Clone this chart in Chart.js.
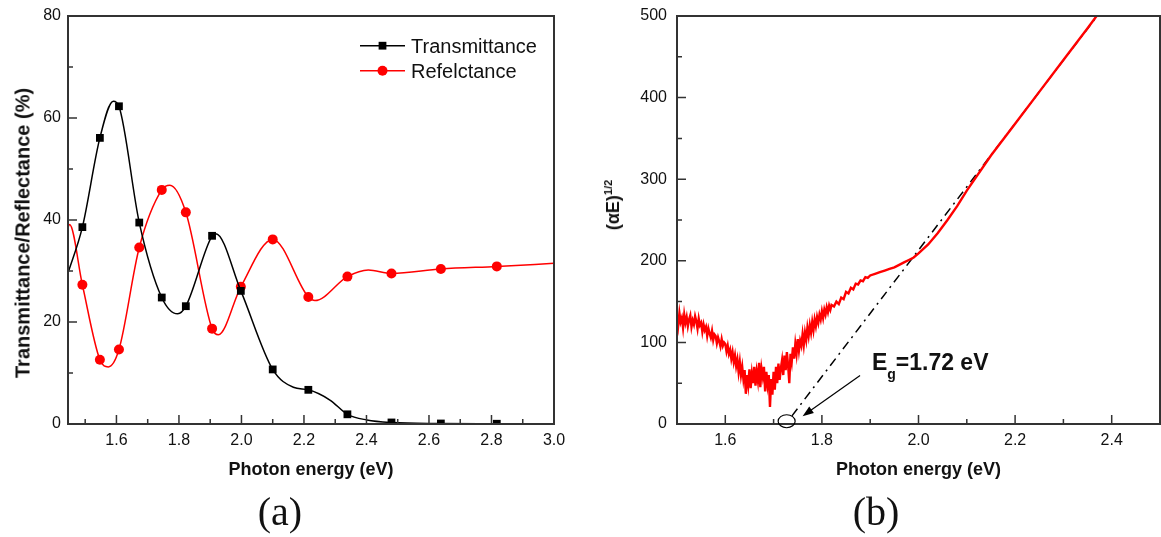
<!DOCTYPE html>
<html>
<head>
<meta charset="utf-8">
<script src="https://cdn.jsdelivr.net/npm/chart.js@4.4.1/dist/chart.umd.min.js"></script>
<style>
  html, body { margin:0; padding:0; background:#fff; }
  #wrap { position:relative; width:1161px; height:537px; overflow:hidden; font-family:"Liberation Sans", Arial, sans-serif; color:#111; }
  .panel { position:absolute; top:0; height:537px; }
  #left { left:0; width:580px; }
  #right { left:580px; width:581px; }
  .tag { position:absolute; font-family:"Liberation Serif", serif; font-size:40px; transform:translate(-50%,-50%); }
  .ytitle { position:absolute; transform:translate(-50%,-50%) rotate(-90deg); font-weight:bold; white-space:nowrap; }
  #ytitleA { left:23px; top:233px; font-size:20px; }
  #ytitleB { left:613px; top:205px; font-size:18px; }
  #ytitleB sup { font-size:11px; }
</style>
</head>
<body>
<div id="wrap">
  <div class="panel" id="left"><canvas id="chartA"></canvas></div>
  <div class="panel" id="right"><canvas id="chartB"></canvas></div>
  <div class="tag" style="left:280px; top:511px">(a)</div>
  <div class="tag" style="left:876px; top:511px">(b)</div>
  <div class="ytitle" id="ytitleA">Transmittance/Reflectance (%)</div>
  <div class="ytitle" id="ytitleB">(αE)<sup>1/2</sup></div>
</div>
<script>
// ---- panel (a): markers sit every 30 nm (832 ... 440 nm) ----
const markE = [1.491, 1.547, 1.608, 1.673, 1.745, 1.822, 1.906, 1.998, 2.100, 2.214, 2.339, 2.480, 2.638, 2.817]
const transMark = [38.6, 56.1, 62.3, 39.5, 24.8, 23.1, 36.9, 26.1, 10.7, 6.7, 1.9, 0.3, 0.1, 0.05]
const reflMark = [27.3, 12.6, 14.6, 34.6, 45.9, 41.5, 18.7, 26.9, 36.2, 24.9, 28.9, 29.5, 30.4, 30.9]

// extra points (edges, peaks, dips)
const transCurveE = [1.445, 1.590, 1.796, 1.918, 2.166, 2.283, 2.401]
const transCurve = [29.6, 63.3, 21.6, 37.3, 7.2, 4.7, 0.8]
const reflCurveE = [1.445, 1.450, 1.574, 1.771, 1.926, 2.235, 2.406, 3.0]
const reflCurve = [38.6, 39.1, 11.2, 46.8, 17.5, 24.2, 30.2, 31.5]

const xTicksA = [1.6, 1.8, 2.0, 2.2, 2.4, 2.6, 2.8, 3.0]
const xMinorA = [1.5, 1.7, 1.9, 2.1, 2.3, 2.5, 2.7, 2.9]
const yTicksA = [0, 20, 40, 60, 80]
const yMinorA = [10, 30, 50, 70]

// ---- panel (b): (alpha E)^1/2 vs photon energy, noisy below 1.82 eV ----
const absE = [
  1.5000, 1.5025, 1.5050, 1.5075, 1.5100, 1.5125, 1.5150, 1.5175,
  1.5200, 1.5225, 1.5250, 1.5275, 1.5300, 1.5325, 1.5350, 1.5375,
  1.5400, 1.5425, 1.5450, 1.5475, 1.5500, 1.5525, 1.5550, 1.5575,
  1.5600, 1.5625, 1.5650, 1.5675, 1.5700, 1.5725, 1.5750, 1.5775,
  1.5800, 1.5825, 1.5850, 1.5875, 1.5900, 1.5925, 1.5950, 1.5975,
  1.6000, 1.6025, 1.6050, 1.6075, 1.6100, 1.6125, 1.6150, 1.6175,
  1.6200, 1.6225, 1.6250, 1.6275, 1.6300, 1.6325, 1.6350, 1.6375,
  1.6400, 1.6425, 1.6450, 1.6475, 1.6500, 1.6525, 1.6550, 1.6575,
  1.6600, 1.6625, 1.6650, 1.6675, 1.6700, 1.6725, 1.6750, 1.6775,
  1.6800, 1.6825, 1.6850, 1.6875, 1.6900, 1.6925, 1.6950, 1.6975,
  1.7000, 1.7025, 1.7050, 1.7075, 1.7100, 1.7125, 1.7150, 1.7175,
  1.7200, 1.7225, 1.7250, 1.7275, 1.7300, 1.7325, 1.7350, 1.7375,
  1.7400, 1.7425, 1.7450, 1.7475, 1.7500, 1.7525, 1.7550, 1.7575,
  1.7600, 1.7625, 1.7650, 1.7675, 1.7700, 1.7725, 1.7750, 1.7775,
  1.7800, 1.7825, 1.7850, 1.7875, 1.7900, 1.7925, 1.7950, 1.7975,
  1.8000, 1.8025, 1.8050, 1.8075, 1.8100, 1.8125, 1.8150, 1.8175, 1.8200,
  1.825, 1.830, 1.835, 1.840, 1.845, 1.850, 1.855, 1.860, 1.865, 1.870,
  1.875, 1.880, 1.885, 1.890, 1.895, 1.900, 1.910, 1.920, 1.930, 1.940,
  1.950, 1.960, 1.970, 1.980, 1.990, 2.000, 2.020, 2.040, 2.060, 2.080,
  2.100, 2.150, 2.200, 2.250, 2.300, 2.350, 2.380
]
const absV = [
  133, 121, 136, 125, 130, 118, 134, 124,
  131, 120, 128, 133, 119, 127, 122, 132,
  126, 117, 129, 121, 124, 113, 122, 115,
  119, 108, 117, 111, 106, 114, 103, 110,
  108, 99, 106, 101, 95, 104, 96, 100,
  98, 89, 96, 86, 91, 80, 88, 76,
  84, 71, 79, 64, 76, 60, 70, 55,
  66, 37, 60, 48, 67, 44, 62, 50,
  70, 47, 64, 53, 75, 45, 68, 58,
  70, 40, 64, 48, 60, 21, 55, 36,
  64, 42, 70, 50, 74, 54, 68, 78,
  60, 84, 66, 88, 72, 50, 86, 76,
  94, 80, 98, 86, 104, 90, 102, 96,
  110, 97, 112, 103, 118, 108, 121, 112,
  125, 115, 128, 120, 131, 124, 134, 128,
  138, 130, 140, 134, 143, 137, 145, 140, 146,
  144, 150, 147, 155, 153, 162, 160, 167, 165, 172,
  171, 176, 175, 180, 179, 182, 184, 186, 188, 190,
  192, 195, 198, 201, 204, 209, 220, 234, 250, 267,
  286, 329, 368, 407, 446, 485, 509
]
// linear fit of the absorption edge
const fitE = [1.738, 2.37]
const fitV = [10, 500]

const xTicksB = [1.6, 1.8, 2.0, 2.2, 2.4]
const xMinorB = [1.7, 1.9, 2.1, 2.3]
const yTicksB = [0, 100, 200, 300, 400, 500]
const yMinorB = [50, 150, 250, 350, 450]

// annotation anchors (data units)
const egCircle = {x: 1.727, y: 3.4}
const egArrow = {fromX: 1.879, fromY: 59.5, toX: 1.760, toY: 9.6}
const egText = {x: 1.9035, y: 66.5}

const FONT = '"Liberation Sans", Arial, sans-serif'
const INK = '#111'

function series(xs, ys, cx, cy) {
  const pts = xs.map((x, i) => ({x, y: ys[i], mark: true}))
    .concat(cx.map((x, i) => ({x, y: cy[i], mark: false})))
  return pts.sort((a, b) => a.x - b.x)
}

// inward ticks on the bottom/left axes plus a closed frame
const frameTicks = {
  id: 'frameTicks',
  afterDatasetsDraw(chart, args, o) {
    const {ctx, chartArea: a, scales: {x, y}} = chart
    ctx.save()
    ctx.strokeStyle = '#333'
    ctx.lineWidth = 1.5
    ctx.beginPath()
    const tx = (vals, len) => vals.forEach(v => {
      const p = x.getPixelForValue(v)
      ctx.moveTo(p, a.bottom); ctx.lineTo(p, a.bottom - len)
    })
    const ty = (vals, len) => vals.forEach(v => {
      const p = y.getPixelForValue(v)
      ctx.moveTo(a.left, p); ctx.lineTo(a.left + len, p)
    })
    tx(o.xMajor, 9); tx(o.xMinor, 5)
    ty(o.yMajor, 9); ty(o.yMinor, 5)
    ctx.stroke()
    ctx.lineWidth = 2
    ctx.strokeRect(a.left, a.top, a.width, a.height)
    ctx.restore()
  }
}

// Origin style legend: line - marker - line, then the name
const lineLegend = {
  id: 'lineLegend',
  afterDraw(chart, args, o) {
    const {ctx, chartArea: a} = chart
    ctx.save()
    chart.data.datasets.forEach((ds, i) => {
      const y = a.top + o.top + i * o.gap
      const x0 = a.left + o.left
      ctx.strokeStyle = ds.borderColor
      ctx.lineWidth = ds.borderWidth
      ctx.beginPath(); ctx.moveTo(x0, y); ctx.lineTo(x0 + 45, y); ctx.stroke()
      ctx.fillStyle = ds.backgroundColor
      Chart.helpers.drawPoint(ctx, {pointStyle: ds.pointStyle, radius: ds.markRadius, borderWidth: 0}, x0 + 22.5, y)
      ctx.fillStyle = INK
      ctx.font = '20px ' + FONT
      ctx.textBaseline = 'alphabetic'
      ctx.fillText(ds.label, x0 + 51, y + 7.2)
    })
    ctx.restore()
  }
}

const egNote = {
  id: 'egNote',
  afterDatasetsDraw(chart) {
    const {ctx, scales: {x, y}} = chart
    ctx.save()
    ctx.strokeStyle = '#000'
    ctx.fillStyle = '#000'
    ctx.lineWidth = 1.2
    ctx.beginPath()
    ctx.ellipse(x.getPixelForValue(egCircle.x), y.getPixelForValue(egCircle.y), 8.5, 6.5, 0, 0, 2 * Math.PI)
    ctx.stroke()
    const x1 = x.getPixelForValue(egArrow.fromX), y1 = y.getPixelForValue(egArrow.fromY)
    const x2 = x.getPixelForValue(egArrow.toX), y2 = y.getPixelForValue(egArrow.toY)
    const ang = Math.atan2(y2 - y1, x2 - x1)
    ctx.beginPath(); ctx.moveTo(x1, y1); ctx.lineTo(x2 - 8 * Math.cos(ang), y2 - 8 * Math.sin(ang)); ctx.stroke()
    ctx.beginPath()
    ctx.moveTo(x2, y2)
    ctx.lineTo(x2 - 11 * Math.cos(ang) + 4 * Math.sin(ang), y2 - 11 * Math.sin(ang) - 4 * Math.cos(ang))
    ctx.lineTo(x2 - 11 * Math.cos(ang) - 4 * Math.sin(ang), y2 - 11 * Math.sin(ang) + 4 * Math.cos(ang))
    ctx.closePath(); ctx.fill()
    let px = x.getPixelForValue(egText.x)
    const py = y.getPixelForValue(egText.y)
    ctx.fillStyle = INK
    ctx.textBaseline = 'alphabetic'
    ctx.font = 'bold 23px ' + FONT
    ctx.fillText('E', px, py); px += ctx.measureText('E').width
    ctx.font = 'bold 14px ' + FONT
    ctx.fillText('g', px, py + 9); px += ctx.measureText('g').width
    ctx.font = 'bold 23px ' + FONT
    ctx.fillText('=1.72 eV', px, py)
    ctx.restore()
  }
}

function axisX(min, max, ticks) {
  return {
    type: 'linear', min, max,
    afterBuildTicks: s => { s.ticks = ticks.map(v => ({value: v})) },
    afterFit: s => { s.height = 113 },
    grid: {display: false, drawTicks: false},
    border: {display: false},
    ticks: {padding: 7, maxRotation: 0, autoSkip: false, color: INK, font: {family: FONT, size: 16},
      callback: v => v.toFixed(1)},
    title: {display: true, text: 'Photon energy (eV)', color: INK,
      font: {family: FONT, size: 18, weight: 'bold'}, padding: {top: 0, bottom: 56}}
  }
}

function axisY(min, max, ticks, width, pad) {
  return {
    type: 'linear', min, max,
    afterBuildTicks: s => { s.ticks = ticks.map(v => ({value: v})) },
    // fixed width, and no extra top/bottom room for the end labels
    afterFit: s => { s.width = width; s.paddingTop = 0; s.paddingBottom = 0 },
    grid: {display: false, drawTicks: false},
    border: {display: false},
    ticks: {padding: pad, color: INK, font: {family: FONT, size: 16}},
    title: {display: false}
  }
}

new Chart(document.querySelector('#chartA'), {
  type: 'line',
  data: {
    datasets: [
      {label: 'Transmittance', data: series(markE, transMark, transCurveE, transCurve),
        borderColor: '#000', backgroundColor: '#000', borderWidth: 1.5,
        pointStyle: 'rect', markRadius: 5.5, pointRadius: c => c.raw.mark ? 5.5 : 0, pointBorderWidth: 0,
        cubicInterpolationMode: 'monotone'},
      {label: 'Refelctance', data: series(markE, reflMark, reflCurveE, reflCurve),
        borderColor: '#ff0000', backgroundColor: '#ff0000', borderWidth: 1.5,
        pointStyle: 'circle', markRadius: 5, pointRadius: c => c.raw.mark ? 5 : 0, pointBorderWidth: 0,
        cubicInterpolationMode: 'monotone'}
    ]
  },
  options: {
    responsive: true, maintainAspectRatio: false, animation: false, events: [],
    layout: {padding: {top: 16, right: 26, left: 0, bottom: 0}},
    scales: {
      x: axisX(1.445, 3.0, xTicksA),
      y: axisY(0, 80, yTicksA, 68, 7)
    },
    plugins: {
      legend: {display: false}, tooltip: {enabled: false},
      frameTicks: {xMajor: xTicksA, xMinor: xMinorA, yMajor: yTicksA, yMinor: yMinorA},
      lineLegend: {left: 292, top: 29.7, gap: 25}
    }
  },
  plugins: [frameTicks, lineLegend]
})

new Chart(document.querySelector('#chartB'), {
  type: 'line',
  data: {
    datasets: [
      {label: '(αE)^1/2', data: absE.map((x, i) => ({x, y: absV[i]})),
        borderColor: '#ff0000', borderWidth: 2.4, pointRadius: 0, tension: 0},
      {label: 'fit', data: fitE.map((x, i) => ({x, y: fitV[i]})),
        borderColor: '#000', borderWidth: 1.5, borderDash: [9, 5, 2, 5], pointRadius: 0, tension: 0}
    ]
  },
  options: {
    responsive: true, maintainAspectRatio: false, animation: false, events: [],
    layout: {padding: {top: 16, right: 1, left: 0, bottom: 0}},
    scales: {
      x: axisX(1.5, 2.5, xTicksB),
      y: axisY(0, 500, yTicksB, 97, 10)
    },
    plugins: {
      legend: {display: false}, tooltip: {enabled: false},
      frameTicks: {xMajor: xTicksB, xMinor: xMinorB, yMajor: yTicksB, yMinor: yMinorB}
    }
  },
  plugins: [frameTicks, egNote]
})
</script>
</body>
</html>
